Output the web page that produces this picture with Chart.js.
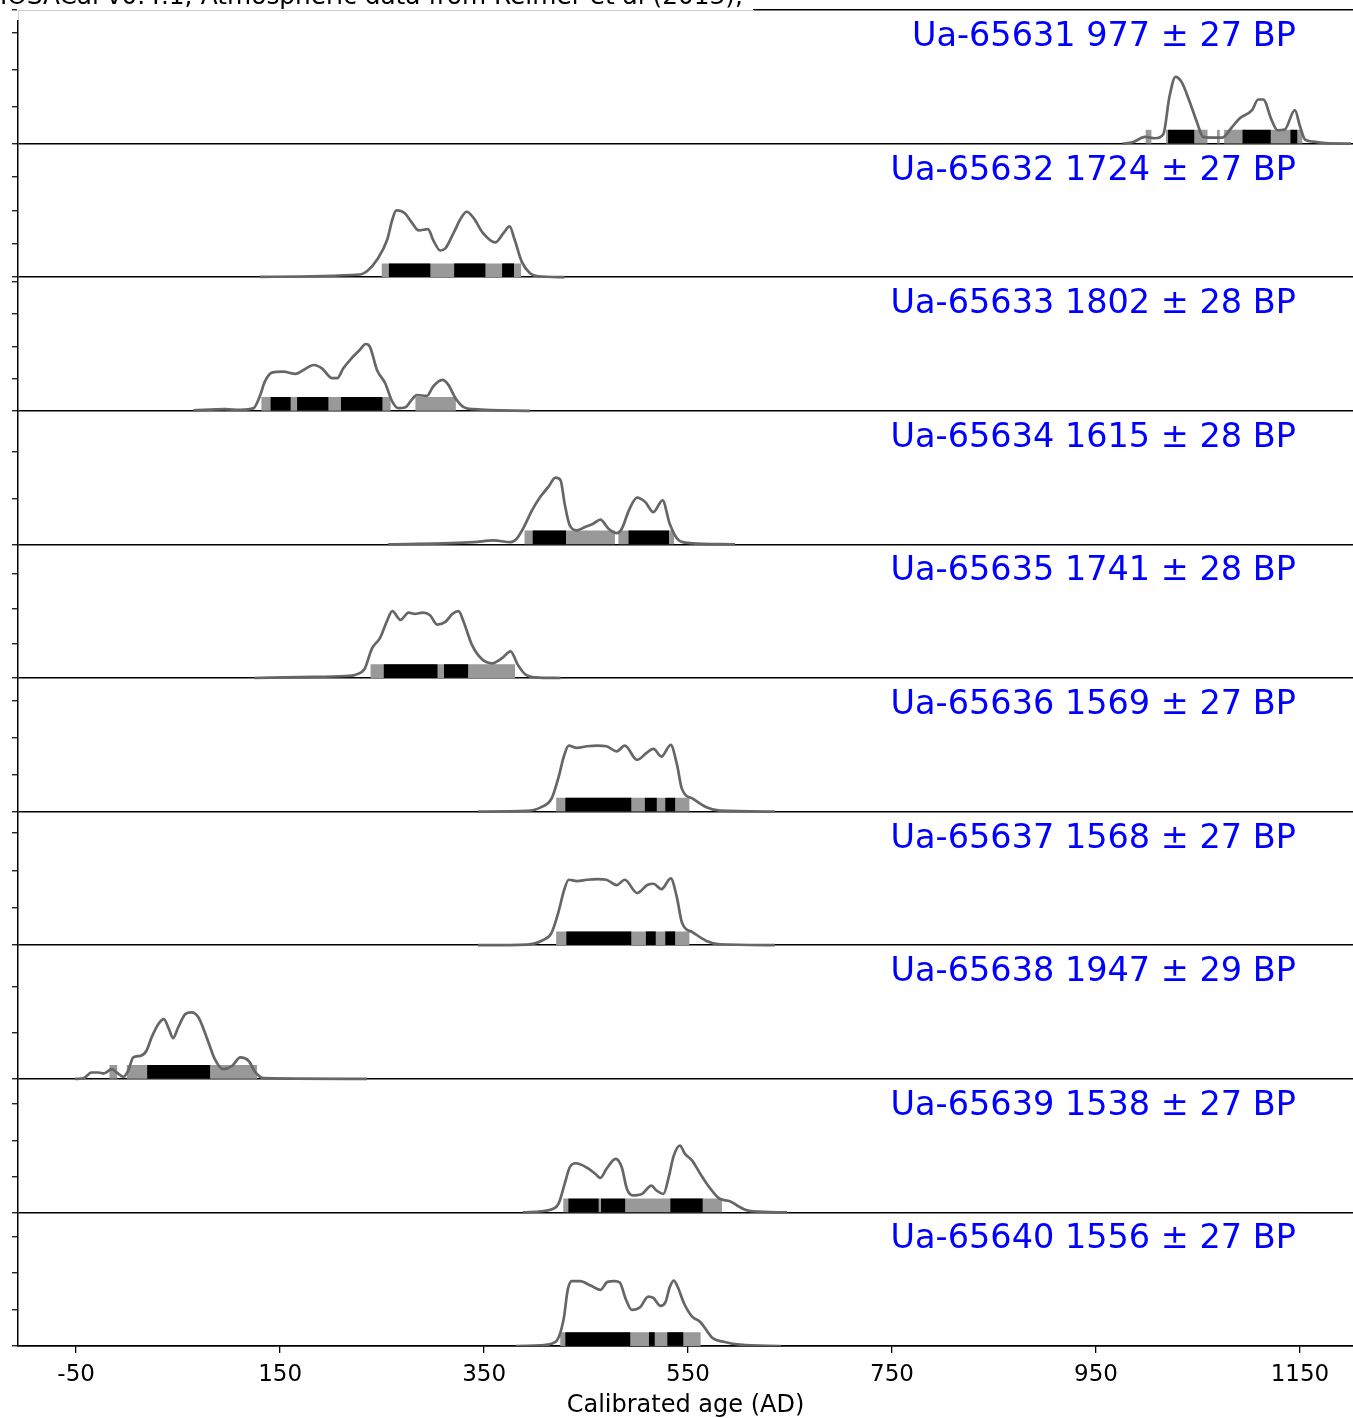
<!DOCTYPE html>
<html>
<head>
<meta charset="utf-8">
<title>Calibrated ages</title>
<script src="https://cdn.jsdelivr.net/npm/chart.js@4.4.1/dist/chart.umd.min.js"></script>
<style>
  html, body { margin: 0; padding: 0; background: #fff; }
  canvas { display: block; }
</style>
</head>
<body>
<canvas id="calChart" width="1353" height="1418"></canvas>
<script>
// Calibrated radiocarbon dates, one panel per sample (top to bottom)

const sampleIds = ['Ua-65631', 'Ua-65632', 'Ua-65633', 'Ua-65634', 'Ua-65635',
                   'Ua-65636', 'Ua-65637', 'Ua-65638', 'Ua-65639', 'Ua-65640'];
const bpAges = [977, 1724, 1802, 1615, 1741, 1569, 1568, 1947, 1538, 1556];
const bpErrors = [27, 27, 28, 28, 28, 27, 27, 29, 27, 27];

const xTicks = [-50, 150, 350, 550, 750, 950, 1150];

// probability curves: [year AD, relative probability (% of panel height)]
const curve65631 = [[976,0],[986,1],[998,5],[1008,4],[1016,7],[1022,35],[1028,50],[1034,46],[1042,31],[1049,16],[1055,5],[1062,4.5],[1074,4.5],[1083,12],[1091,19],[1103,25],[1109,33],[1114,33],[1122,18],[1128,10],[1135,10.5],[1145,25],[1150,13],[1155,3],[1163,1.5],[1175,0.3],[1200,0]];
const curve65632 = [[130,0.3],[228,2],[236,5],[245,13],[255,28],[260,43],[264,50],[272,48],[279,41],[286,35],[295,36],[300,28],[307,20],[312,21.5],[320,33],[328,45],[333,49],[340,44],[349,33],[361,26],[369,33],[375,38],[380,28],[387,11.5],[395,3],[403,0.7],[429,0]];
const curve65633 = [[65,0.3],[96,1.2],[111,0.7],[124,2],[130,10.7],[135,21.8],[142,28.6],[153,29.3],[165,27.6],[173,30.6],[183,34.3],[191,31.8],[201,24.4],[206,24.4],[212,31.8],[220,39.3],[228,45.5],[234,50],[238,48],[245,30.6],[253,20.6],[260,6.9],[266,2],[273,2.7],[279,8.2],[284,11.7],[294,11.2],[300,18.1],[309,23.1],[315,19.4],[322,9.4],[330,2.7],[340,1.2],[395,0]];
const curve65634 = [[256,0],[340,1.7],[359,3],[376,1.7],[382,4.3],[389,13],[397,25.5],[405,35.5],[413,43],[420,50],[425,48],[429,30.5],[434,14.2],[441,10.5],[449,13],[457,15.5],[464,18.5],[472,11.7],[480,8.4],[485,11.7],[492,25.5],[500,35],[508,31.7],[516,24.2],[525,33],[532,15.5],[541,3],[552,1],[596,0]];
const curve65635 = [[125,0],[170,0.7],[215,1.5],[224,2.5],[233,7],[240,22],[248,30],[255,43],[260,50],[268,43.5],[276,49],[282,48],[290,49],[297,47],[304,40],[312,42],[319,48],[325,50],[330,42],[338,25],[348,14],[358,11],[368,15],[376,20],[383,10],[390,3],[400,0.5],[425,0]];
const curve65636 = [[344,0],[392,0.5],[407,3.7],[416,9.5],[423,25.7],[428,40.7],[433,49.4],[441,47.7],[451,48.9],[461,49.4],[470,48.9],[480,45.1],[488,49.4],[500,38.7],[510,44.4],[516,46.9],[524,41.2],[533,49.9],[539,35.7],[544,17],[555,9.5],[568,3.2],[581,0.7],[635,0]];
const curve65637 = [[344,0],[392,0.5],[407,3.5],[416,9],[423,25],[428,40],[433,49],[441,48],[451,49],[461,49.5],[470,49],[480,45],[488,49],[500,39],[510,45],[516,46],[524,42],[533,50],[539,36],[544,17],[555,9.5],[568,3.2],[581,0.7],[635,0]];
const curve65638 = [[-51,0],[-43,0.3],[-35,4.7],[-28,4.7],[-23,4],[-15,7.2],[-10,4.7],[-4,1.5],[1,6],[6,16],[13,17.2],[19,21],[24,31],[31,41.4],[36,44.7],[41,37.2],[45,30.5],[50,38.4],[57,48.4],[63,49.7],[70,45.9],[78,31],[86,14.7],[94,7.2],[103,9.7],[111,16],[119,13.5],[126,4.7],[134,0.5],[235,0]];
const curve65639 = [[388,0],[415,2],[423,6.5],[429,21.4],[434,33.8],[440,36.8],[451,33.4],[459,28.9],[464,25.9],[470,32.6],[479,40.1],[485,33.8],[490,17.7],[496,12.7],[505,13.9],[514,20.1],[519,16.4],[526,13.9],[531,26.3],[536,42.5],[542,50],[547,43.8],[554,38.8],[562,28.9],[572,17.7],[581,10.2],[591,8.4],[598,5.2],[606,2],[614,0.7],[647,0]];
const curve65640 = [[381,0],[405,0.5],[420,3],[428,20],[432,42],[436,48.5],[444,48.5],[454,45.5],[464,42],[471,48],[478,48.5],[483,47.5],[489,35],[495,27],[503,29],[511,37],[516,36],[523,30],[528,33],[532,44],[536,49],[540,44],[546,32],[554,22],[562,18],[574,6],[586,3],[601,1],[641,0]];

// 95.4% ranges (grey) and 68.2% ranges (black), years AD
const range95 = [
  [[999,1004],[1019,1059],[1069,1071],[1076,1152]],
  [[250,386]],
  [[132,258],[283,322]],
  [[390,478],[482,536]],
  [[239,380]],
  [[421,551]],
  [[421,551]],
  [[-17,-10],[0,127]],
  [[428,583]],
  [[425,562]]
];
const range68 = [
  [[1021,1046],[1094,1121],[1141,1147]],
  [[257,297],[321,351],[368,379]],
  [[141,160],[167,197],[210,250]],
  [[398,430],[492,531]],
  [[252,304],[311,334]],
  [[430,494],[508,519],[528,537]],
  [[431,494],[509,518],[528,537]],
  [[20,81]],
  [[433,462],[465,488],[533,564]],
  [[430,493],[512,517],[530,545]]
];

const curves = [curve65631, curve65632, curve65633, curve65634, curve65635,
                curve65636, curve65637, curve65638, curve65639, curve65640];

// y tick spacing of each panel, as a share of the panel height
const panelTickSteps = [0.276, 0.25, 0.241, 0.345, 0.26, 0.277, 0.28, 0.345, 0.27, 0.273];

const nPanels = sampleIds.length;
const panelBase = i => nPanels - 1 - i;   // panel i occupies [base, base + 1]
const barLift = 0.052;

const curveDatasets = curves.map((c, i) => ({
  type: 'line',
  label: sampleIds[i],
  data: c.map(p => ({ x: p[0], y: panelBase(i) + p[1] / 100 })),
  borderColor: '#666666',
  borderWidth: 2.7,
  pointRadius: 0,
  fill: false,
  cubicInterpolationMode: 'monotone',
  order: 0
}));

function rangeBars(ranges) {
  const out = [];
  ranges.forEach((list, i) => {
    list.forEach(r => out.push({ x: [r[0], r[1]], y: panelBase(i) + barLift }));
  });
  return out;
}

const barDefaults = {
  type: 'bar',
  indexAxis: 'y',
  grouped: false,
  barThickness: 13,
  maxBarThickness: 13,
  borderWidth: 0,
  borderSkipped: false
};

const yTickValues = [];
for (let i = 0; i < nPanels; i++) {
  for (let k = 0; k * panelTickSteps[i] <= 1.0001; k++) {
    yTickValues.push(+(panelBase(i) + k * panelTickSteps[i]).toFixed(5));
  }
}
yTickValues.push(nPanels);
const yTicksUnique = [...new Set(yTickValues)].sort((a, b) => a - b);
const isBoundary = v => Math.abs(v - Math.round(v)) < 1e-4;

const FONT = '"DejaVu Sans", "Liberation Sans", sans-serif';

const panelDecor = {
  id: 'panelDecor',
  beforeDraw(chart) {
    const c = chart.ctx;
    c.save();
    c.fillStyle = '#ffffff';
    c.fillRect(0, 0, chart.width, chart.height);
    c.restore();
  },
  afterDraw(chart) {
    const c = chart.ctx;
    const ys = chart.scales.y;
    c.save();

    // sample labels at the top right of each panel
    c.font = '33.5px ' + FONT;
    c.textAlign = 'right';
    c.textBaseline = 'alphabetic';
    c.fillStyle = '#0000ff';
    for (let i = 0; i < nPanels; i++) {
      const top = ys.getPixelForValue(panelBase(i) + 1);
      const text = sampleIds[i] + ' ' + bpAges[i] + ' \u00b1 ' + bpErrors[i] + ' BP';
      c.fillText(text, 1296, top + 36);
    }

    // software / calibration curve note, cut by the top edge
    const left = chart.chartArea.left;
    const top0 = chart.chartArea.top;
    c.fillStyle = '#ffffff';
    c.fillRect(left - 1, top0 - 2, 754 - left, 12);
    c.strokeStyle = '#cccccc';
    c.lineWidth = 1;
    c.beginPath();
    c.moveTo(754, top0 + 0.5);
    c.lineTo(left + 0.5, top0 + 0.5);
    c.lineTo(left + 0.5, top0 + 10);
    c.stroke();
    c.fillStyle = '#000000';
    c.textAlign = 'left';
    c.font = '24.8px ' + FONT;
    c.fillText('IOSACal v0.4.1; Atmospheric data from Reimer et al (2013);', 0, 4);
    c.restore();
  }
};

new Chart(document.getElementById('calChart'), {
  type: 'line',
  data: {
    datasets: [
      ...curveDatasets,
      Object.assign({ label: '68.2%', data: rangeBars(range68), backgroundColor: '#000000', order: 1 }, barDefaults),
      Object.assign({ label: '95.4%', data: rangeBars(range95), backgroundColor: '#999999', order: 2 }, barDefaults)
    ]
  },
  options: {
    responsive: false,
    devicePixelRatio: 1,
    animation: false,
    layout: { padding: { top: 10, right: 0, left: 0, bottom: 0 } },
    plugins: {
      legend: { display: false },
      tooltip: { enabled: false }
    },
    scales: {
      x: {
        type: 'linear',
        position: 'bottom',
        min: -107,
        max: 1202,
        offset: false,
        afterBuildTicks: scale => { scale.ticks = xTicks.map(v => ({ value: v })); },
        afterFit: scale => { scale.height = 72; },
        ticks: {
          color: '#000',
          font: { family: FONT, size: 23 },
          padding: 8,
          maxRotation: 0,
          autoSkip: false,
          callback: v => String(v)
        },
        grid: {
          offset: false,
          drawOnChartArea: false,
          tickLength: 7,
          color: '#000',
          lineWidth: 1.3
        },
        border: { color: '#000', width: 1.5 },
        title: {
          display: true,
          text: 'Calibrated age (AD)',
          color: '#000',
          font: { family: FONT, size: 24, lineHeight: 1 },
          padding: { top: 2, bottom: 0 }
        }
      },
      y: {
        type: 'linear',
        min: 0,
        max: nPanels,
        offset: false,
        afterBuildTicks: scale => { scale.ticks = yTicksUnique.map(v => ({ value: v })); },
        afterFit: scale => { scale.width = 18; },
        ticks: { display: false },
        grid: {
          offset: false,
          drawOnChartArea: true,
          tickLength: 6,
          lineWidth: 1.5,
          color: ctx => (ctx.tick && !isBoundary(ctx.tick.value)) ? 'rgba(0,0,0,0)' : '#000',
          tickColor: '#000',
          tickWidth: 1.2
        },
        border: { color: '#000', width: 1.5 }
      }
    }
  },
  plugins: [panelDecor]
});
</script>
</body>
</html>
